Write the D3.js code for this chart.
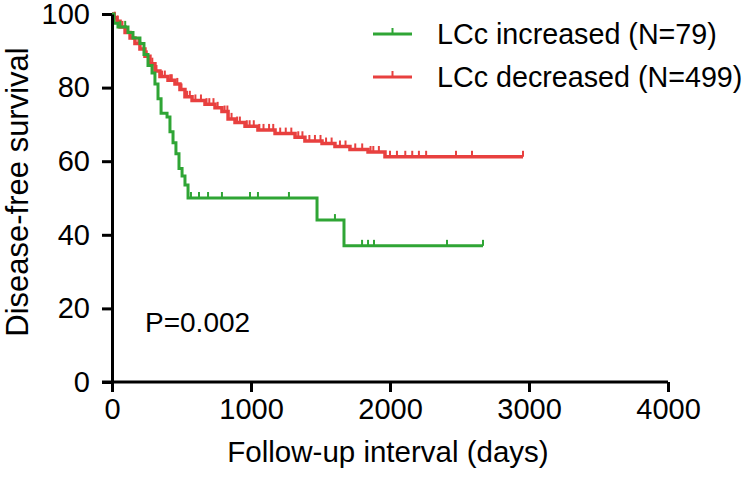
<!DOCTYPE html>
<html>
<head>
<meta charset="utf-8">
<script src="https://cdn.jsdelivr.net/npm/d3@7"></script>
<style>
  body { margin: 0; background: #fff; }
  svg text { font-family: "Liberation Sans", Arial, Helvetica, sans-serif; fill: #000; }
</style>
</head>
<body>
<svg id="chart"></svg>
<script>
// step curves: event times (days) and survival (%)
var greenTimes = [0, 14, 43, 115, 151, 201, 230, 259, 288, 309, 331, 353, 396, 417, 439, 460, 482, 504, 525, 547, 1475, 1669, 2669];
var greenSurv  = [100, 97.5, 96.5, 95, 93.5, 92, 89, 86, 84, 81, 77, 73, 72, 68, 65, 62, 58, 56, 53.5, 50, 44, 37, 37];
var greenCensor = [60, 95, 568, 626, 691, 791, 993, 1050, 1273, 1604, 1799, 1842, 1885, 2410, 2669];

var redTimes = [0, 14, 36, 58, 94, 130, 165, 201, 237, 273, 309, 345, 403, 453, 489, 525, 576, 669, 741, 791, 835, 885, 957, 1050, 1173, 1317, 1388, 1511, 1604, 1712, 1842, 1964, 2957];
var redSurv  = [100, 99, 98, 96.5, 95, 93.5, 92, 90.5, 88.5, 86.5, 84.5, 83, 82, 81, 79.5, 77.5, 76.5, 75.5, 74.5, 73.5, 71.5, 70.5, 69.5, 68.5, 67.5, 66.5, 65.5, 64.8, 64, 63.2, 62.5, 61.2, 61.2];
var redCensor = [20, 40, 75, 110, 150, 190, 250, 290, 320, 360, 380, 420, 430, 470, 500, 540, 560, 600, 640, 680, 700, 730, 760, 810, 830, 860, 900, 920, 970, 990, 1020, 1060, 1090, 1130, 1160, 1210, 1250, 1290, 1340, 1370, 1420, 1460, 1500, 1540, 1580, 1640, 1680, 1750, 1800, 1860, 1880, 1920, 2000, 2050, 2110, 2160, 2208, 2260, 2475, 2590, 2957];

var xTicks = [0, 1000, 2000, 3000, 4000];
var yTicks = [0, 20, 40, 60, 80, 100];

var legendLabels = ["LCc increased (N=79)", "LCc decreased (N=499)"];
var seriesColors = ["#2fa535", "#e8403f"];

var width = 744, height = 478;
var fontSize = 29;

var svg = d3.select("#chart").attr("width", width).attr("height", height);

var x = d3.scaleLinear().domain([0, 4000]).range([112, 668]);
var y = d3.scaleLinear().domain([0, 100]).range([382, 14]);

var stepAt = function(times, surv, t) {
    var i = d3.bisectRight(times, t) - 1;
    return surv[Math.max(0, i)];
};

var line = d3.line()
    .x(function(d) { return x(d[0]); })
    .y(function(d) { return y(d[1]); })
    .curve(d3.curveStepAfter);

var series = [
    { times: redTimes, surv: redSurv, censor: redCensor, color: seriesColors[1], w: 3.5 },
    { times: greenTimes, surv: greenSurv, censor: greenCensor, color: seriesColors[0], w: 3 }
];

series.forEach(function(s) {
    var g = svg.append("g");
    g.append("path")
        .datum(d3.zip(s.times, s.surv))
        .attr("fill", "none")
        .attr("stroke", s.color)
        .attr("stroke-width", s.w)
        .attr("d", line);

    g.selectAll("line.censor")
        .data(s.censor)
        .enter()
        .append("line")
        .attr("class", "censor")
        .attr("x1", function(d) { return x(d); })
        .attr("x2", function(d) { return x(d); })
        .attr("y1", function(d) { return y(stepAt(s.times, s.surv, d)); })
        .attr("y2", function(d) { return y(stepAt(s.times, s.surv, d)) - 6; })
        .attr("stroke", s.color)
        .attr("stroke-width", 2);
});

// axes
var xAxis = svg.append("g")
    .attr("transform", "translate(0,382)")
    .call(d3.axisBottom(x).tickValues(xTicks).tickFormat(d3.format("d"))
        .tickSize(10).tickSizeOuter(0).tickPadding(6));

var yAxis = svg.append("g")
    .attr("transform", "translate(112,0)")
    .call(d3.axisLeft(y).tickValues(yTicks).tickFormat(d3.format("d"))
        .tickSize(10).tickSizeOuter(0).tickPadding(12));

[xAxis, yAxis].forEach(function(a) {
    a.select(".domain").attr("stroke", "#000").attr("stroke-width", 3);
    a.selectAll(".tick line").attr("stroke", "#000").attr("stroke-width", 3);
    a.selectAll(".tick text").style("font-size", fontSize + "px");
});
// x axis line reaches back to the 0 tick of the y axis
xAxis.select(".domain").attr("d", "M102,0H668");

svg.append("text")
    .attr("x", 388)
    .attr("y", 462)
    .attr("text-anchor", "middle")
    .style("font-size", "29.5px")
    .text("Follow-up interval (days)");

svg.append("text")
    .attr("transform", "translate(28,192) rotate(-90)")
    .attr("text-anchor", "middle")
    .style("font-size", "31px")
    .text("Disease-free survival");

svg.append("text")
    .attr("x", 145)
    .attr("y", 332)
    .style("font-size", "28px")
    .text("P=0.002");

// legend
var legend = svg.selectAll("g.legend")
    .data(legendLabels)
    .enter()
    .append("g")
    .attr("class", "legend")
    .attr("transform", function(d, i) { return "translate(373," + (34 + i * 43) + ")"; });

legend.append("line")
    .attr("x1", 0).attr("x2", 39).attr("y1", 0).attr("y2", 0)
    .attr("stroke", function(d, i) { return seriesColors[i]; })
    .attr("stroke-width", 3);
legend.append("line")
    .attr("x1", 19.5).attr("x2", 19.5).attr("y1", 0).attr("y2", -6)
    .attr("stroke", function(d, i) { return seriesColors[i]; })
    .attr("stroke-width", 2);
legend.append("text")
    .attr("x", 64)
    .attr("y", 10)
    .style("font-size", "28.7px")
    .text(function(d) { return d; });
</script>
</body>
</html>
